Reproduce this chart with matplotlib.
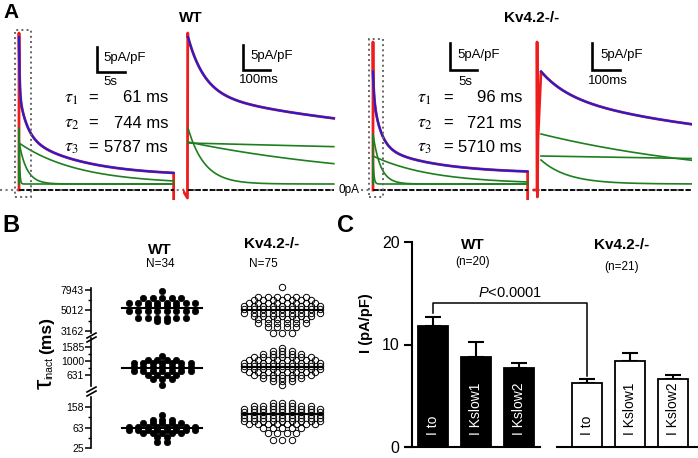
import numpy as np
import matplotlib
matplotlib.use('Agg')
import matplotlib.pyplot as plt
from matplotlib.patches import Rectangle
from matplotlib.ticker import FixedLocator, NullFormatter, FixedFormatter

plt.rcParams['font.family'] = ['Liberation Sans', 'DejaVu Sans']
plt.rcParams['mathtext.fontset'] = 'custom'
plt.rcParams['mathtext.rm'] = 'Liberation Sans'
plt.rcParams['mathtext.it'] = 'Liberation Sans:italic'
plt.rcParams['mathtext.bf'] = 'Liberation Sans:bold'

# ---------------- data ----------------
# Panel A: 3-exponential fits of example cells (amplitudes in pA/pF, taus in ms)
wt_tau_ms = [61, 744, 5787]
wt_amp = [11.2, 8.4, 8.2]
wt_ss = 2.8
wt_peak = 31.4
ko_tau_ms = [96, 721, 5710]
ko_amp = [4.8, 10.0, 5.6]
ko_ss = 3.3
ko_peak = 29.6
comp_base = 1.2
long_dur_ms = 15000
zoom_dur_ms = 540

# Panel B: tau_inact values (ms)
wt_tau3 = [7850] + [6570]*5 + [5990]*8 + [5580]*4 + [4900]*8 + [4190]*6 + [3920]*2
ko_tau3 = ([8590] + [6770]*6 + [6320]*7 + [5890]*8 + [5490]*9 + [5130]*9 + [4780]*9
           + [4460]*7 + [4160]*6 + [3810]*6 + [3430]*4 + [2990]*3)
wt_tau2 = [1179] + [1033]*4 + [936]*7 + [821]*7 + [720]*7 + [631]*4 + [553]*3 + [454]
ko_tau2 = ([1533] + [1389]*3 + [1259]*5 + [1141]*7 + [1033]*8 + [936]*9 + [848]*9
           + [769]*9 + [696]*8 + [631]*7 + [572]*5 + [518]*3 + [454])
wt_tau1 = [111] + [88.5]*3 + [77]*5 + [64.5]*8 + [56]*8 + [49]*5 + [41]*2 + [33]*2
ko_tau1 = ([190.6]*3 + [166.5]*7 + [145.6]*9 + [127.3]*9 + [111.3]*9 + [97.3]*9
           + [85.1]*9 + [74.4]*8 + [61.8]*5 + [49.3]*4 + [35.7]*3)
wt_means = [5250, 790, 63]
ko_means = [5100, 815, 118]

# Panel C
c_labels = ['I to', 'I Kslow1', 'I Kslow2']
wt_mean = [11.8, 8.8, 7.7]
wt_sem = [0.9, 1.45, 0.5]
ko_mean = [6.25, 8.4, 6.6]
ko_sem = [0.35, 0.8, 0.4]
p_text = '$P$<0.0001'

# ---------------- figure ----------------
W, H = 698, 458
fig = plt.figure(figsize=(W / 100, H / 100), dpi=100)


def ax_px(x0, y0, x1, y1, **kw):
    return fig.add_axes([x0 / W, 1 - y1 / H, (x1 - x0) / W, (y1 - y0) / H], **kw)


bg = fig.add_axes([0, 0, 1, 1], zorder=-1)
bg.set_xlim(0, W)
bg.set_ylim(H, 0)
bg.axis('off')

RED, BLUE, GREEN = '#ee1c1c', '#1f1fd8', '#1e7f1e'
PX_PER_UNIT = 5.0
ZERO_Y = 190
LONG_MS_PER_PX = 97.0


def trace_axes(x0, x1, t0_px, ms_per_px):
    ax = ax_px(x0, 25, x1, 200)
    ax.set_xlim((x0 - t0_px) * ms_per_px, (x1 - t0_px) * ms_per_px)
    ax.set_ylim(-(200 - ZERO_Y) / PX_PER_UNIT, (ZERO_Y - 25) / PX_PER_UNIT)
    ax.axis('off')
    return ax


def fit(t, amps, taus, ss):
    return ss + sum(a * np.exp(-t / tau) for a, tau in zip(amps, taus))


def draw_long(ax, amps, taus, ss, peak, box):
    t = np.concatenate([np.linspace(0, 2000, 800), np.linspace(2000, long_dur_ms, 400)[1:]])
    f = fit(t, amps, taus, ss)
    ax.plot(np.r_[0, 0, t, t[-1]], np.r_[0, peak, f, -2], color=RED, lw=2.0, zorder=2)
    for a, tau in zip(amps, taus):
        ax.plot(np.r_[0, t], np.r_[comp_base, comp_base + a * np.exp(-t / tau)],
                color=GREEN, lw=1.2, zorder=3)
    ax.plot(t, f, color=BLUE, lw=1.5, zorder=4)
    ax.plot([0, long_dur_ms], [0, 0], color='black', lw=1.3, ls=(0, (3, 1)), zorder=5)
    ax.add_patch(Rectangle((box[0], -1.4), box[1] - box[0], box[2] + 1.4, fill=False,
                           ec='#666666', lw=1.4, ls=':', clip_on=False, zorder=6))


def draw_zoom(ax, amps, taus, ss, rise_t, rise_v):
    t = np.linspace(0, zoom_dur_ms, 600)
    f = fit(t, amps, taus, ss)
    ax.plot(np.r_[rise_t, t], np.r_[rise_v, f], color=RED, lw=2.0, zorder=2)
    for a, tau in zip(amps, taus):
        ax.plot(t, comp_base + a * np.exp(-t / tau), color=GREEN, lw=1.2, zorder=3)
    ax.plot(t, f, color=BLUE, lw=1.5, zorder=4)
    ax.plot([0, zoom_dur_ms], [0, 0], color='black', lw=1.3, ls=(0, (3, 1)), zorder=5)


def scalebar_px(x, ytop, ybot, xright, xlabel, tx, ty, lx, ly):
    bg.plot([x, x, xright], [ytop, ybot, ybot], color='black', lw=1.9,
            solid_joinstyle='miter')
    bg.text(tx, ty, '5pA/pF', fontsize=9.5, ha='left', va='center')
    bg.text(lx, ly, xlabel, fontsize=9.5, ha='center', va='center')


# gray dotted 0 line and label
bg.plot([0, 336], [ZERO_Y, ZERO_Y], color='#777777', lw=1.5, ls=':')
bg.plot([361, 690], [ZERO_Y, ZERO_Y], color='#777777', lw=1.5, ls=':')
bg.text(349, ZERO_Y, '0pA', fontsize=8.5, ha='center', va='center')

# WT long
a1 = trace_axes(8, 182, 19, LONG_MS_PER_PX)
draw_long(a1, wt_amp, wt_tau_ms, wt_ss, wt_peak, (-390, 1165, 32))
scalebar_px(97, 47, 72, 125, '5s', 103, 58, 110, 82)
# WT zoom
a2 = trace_axes(183, 338, 188, 100 / 27)
draw_zoom(a2, wt_amp, wt_tau_ms, wt_ss, [-20, -2, -1], [0, -1.6, wt_peak])
scalebar_px(243, 45, 70, 270, '100ms', 250, 56, 259, 80)
# KO long
a3 = trace_axes(362, 532, 373, LONG_MS_PER_PX)
draw_long(a3, ko_amp, ko_tau_ms, ko_ss, ko_peak, (-390, 970, 30.2))
scalebar_px(450, 43, 70, 477, '5s', 457, 55, 465, 82)
# KO zoom
a4 = trace_axes(533, 692, 541, 100 / 28)
draw_zoom(a4, ko_amp, ko_tau_ms, ko_ss, [-28, -14, -14, -13, -11], [0, 0, ko_peak, -1.4, 10])
scalebar_px(592, 43, 70, 620, '100ms', 600, 55, 608, 81)

# tau texts
for x_tau, x_eq, x_val, taus in [(64, 88, 168, wt_tau_ms), (417, 443, 522, ko_tau_ms)]:
    for i, (yy, tau) in enumerate(zip([98, 123, 147], taus)):
        bg.text(x_tau, yy, r'$\tau_%d$' % (i + 1), math_fontfamily='stix', fontsize=13,
                ha='left', va='center')
        bg.text(x_eq, yy, '=', fontsize=12, ha='left', va='center')
        bg.text(x_val, yy, '%d ms' % tau, fontsize=12, ha='right', va='center')

bg.text(191, 18, 'WT', fontsize=11, fontweight='bold', ha='center', va='center')
bg.text(532, 18, 'Kv4.2-/-', fontsize=11, fontweight='bold', ha='center', va='center')
bg.text(3, 13, 'A', fontsize=15, fontweight='bold', ha='left', va='center')

# ---------------- Panel B ----------------
bg.text(2, 225, 'B', fontsize=17, fontweight='bold', ha='left', va='center')
bg.text(160, 250, 'WT', fontsize=11, fontweight='bold', ha='center', va='center')
bg.text(160, 264, 'N=34', fontsize=8.5, ha='center', va='center')
bg.text(272, 244, 'Kv4.2-/-', fontsize=11, fontweight='bold', ha='center', va='center')
bg.text(263, 264, 'N=75', fontsize=8.5, ha='center', va='center')
bg.text(47, 336, '(ms)', fontsize=12.5, fontweight='bold', rotation=90, ha='center', va='center')
bg.text(49, 368, 'inact', fontsize=7.5, rotation=90, ha='center', va='center')
bg.text(45, 384, 'τ', fontsize=19, rotation=90, ha='center', va='center')

AX_B = 91
B_PX_PER_UNIT = 120.0
spacing = 9.5 / B_PX_PER_UNIT
half_w = 40 / B_PX_PER_UNIT
b_xlim = (-(162 - AX_B) / B_PX_PER_UNIT, (335 - 162) / B_PX_PER_UNIT)

segments = [
    ((288, 333), (3021, 8313), [3162, 5012, 7943], [3981, 6310], wt_tau3, ko_tau3, 0),
    ((338, 386), (439, 2132), [631, 1000, 1585], [794, 1259], wt_tau2, ko_tau2, 1),
    ((397, 448), (25, 250), [25, 63, 158], [40, 100], wt_tau1, ko_tau1, 2),
]


def place(vals, xc):
    xs, ys = [], []
    uniq = sorted(set(vals), reverse=True)
    for u in uniq:
        n = vals.count(u)
        off = (np.arange(n) - (n - 1) / 2) * spacing
        xs.extend(xc + off)
        ys.extend([u] * n)
    return xs, ys


for (y0, y1), ylim, majors, minors, wv, kv, k in segments:
    ax = ax_px(AX_B, y0, 335, y1)
    ax.set_facecolor('none')
    ax.set_yscale('log')
    ax.set_xlim(*b_xlim)
    ax.set_ylim(*ylim)
    for s in ['top', 'right', 'bottom']:
        ax.spines[s].set_visible(False)
    ax.spines['left'].set_linewidth(1.2)
    ax.set_xticks([])
    ax.yaxis.set_major_locator(FixedLocator(majors))
    ax.yaxis.set_major_formatter(FixedFormatter([str(m) for m in majors]))
    ax.yaxis.set_minor_locator(FixedLocator(minors))
    ax.yaxis.set_minor_formatter(NullFormatter())
    ax.tick_params(axis='y', which='major', length=4, width=1.1, labelsize=7.5, pad=1)
    ax.tick_params(axis='y', which='minor', length=2.5, width=1.0)
    xs, ys = place(wv, 0)
    ax.plot(xs, ys, 'o', ms=4.6, mfc='black', mec='black', mew=0.5, clip_on=False, zorder=3)
    xs, ys = place(kv, 1)
    ax.plot(xs, ys, 'o', ms=4.6, mfc='none', mec='black', mew=0.7, clip_on=False, zorder=3)
    ax.plot([-half_w, half_w], [wt_means[k]] * 2, color='black', lw=1.5, zorder=4)
    ax.plot([1 - half_w, 1 + half_w], [ko_means[k]] * 2, color='black', lw=1.5, zorder=4)

# axis break marks
for yb in [333, 387]:
    bg.plot([AX_B - 4, AX_B + 5], [yb + 5, yb], color='black', lw=1.2)
    bg.plot([AX_B - 4, AX_B + 5], [yb + 9, yb + 4], color='black', lw=1.2)

# ---------------- Panel C ----------------
bg.text(337, 225, 'C', fontsize=17, fontweight='bold', ha='left', va='center')
C_PX = 43.0
axc = ax_px(412, 242, 697, 447)
axc.set_facecolor('none')
axc.set_xlim((412 - 433) / C_PX, (697 - 433) / C_PX)
axc.set_ylim(0, 20)
for s in ['top', 'right', 'bottom']:
    axc.spines[s].set_visible(False)
axc.spines['left'].set_linewidth(1.5)
axc.set_xticks([])
axc.set_yticks([0, 10, 20])
axc.tick_params(axis='y', length=6, width=1.5, labelsize=11.5, pad=3)

wt_pos = np.arange(3)
ko_pos = np.arange(3) + 3.58
axc.bar(wt_pos, wt_mean, width=0.7, color='black', edgecolor='black', lw=1.3, zorder=2)
axc.bar(ko_pos, ko_mean, width=0.7, color='white', edgecolor='black', lw=1.3, zorder=2)
axc.errorbar(wt_pos, wt_mean, yerr=[np.zeros(3), wt_sem], fmt='none', ecolor='black',
             elinewidth=1.5, capsize=5.5, capthick=1.5, zorder=1)
axc.errorbar(ko_pos, ko_mean, yerr=[np.zeros(3), ko_sem], fmt='none', ecolor='black',
             elinewidth=1.5, capsize=5.5, capthick=1.5, zorder=1)
for p, lab in zip(wt_pos, c_labels):
    axc.text(p, 1.15, lab, rotation=90, ha='center', va='bottom', color='white', fontsize=10)
for p, lab in zip(ko_pos, c_labels):
    axc.text(p, 1.15, lab, rotation=90, ha='center', va='bottom', color='black', fontsize=10)
axc.plot([(405 - 433) / C_PX, (540 - 433) / C_PX], [0, 0], color='black', lw=1.5, clip_on=False)
axc.plot([(557 - 433) / C_PX, (697 - 433) / C_PX], [0, 0], color='black', lw=1.5, clip_on=False)

# significance bracket
top_y = 14.05
axc.plot([wt_pos[0], wt_pos[0], ko_pos[0], ko_pos[0]],
         [wt_mean[0] + wt_sem[0] + 0.35, top_y, top_y, ko_mean[0] + ko_sem[0] + 0.3],
         color='black', lw=1.1)
axc.text((wt_pos[0] + ko_pos[0]) / 2, top_y + 1.0, p_text, fontsize=10.5, ha='center',
         va='center')

bg.text(473, 245, 'WT', fontsize=11, fontweight='bold', ha='center', va='center')
bg.text(473, 262, '(n=20)', fontsize=8.5, ha='center', va='center')
bg.text(622, 245, 'Kv4.2-/-', fontsize=11, fontweight='bold', ha='center', va='center')
bg.text(622, 267, '(n=21)', fontsize=8.5, ha='center', va='center')
bg.text(366, 323, 'I (pA/pF)', fontsize=10.5, fontweight='bold', rotation=90,
        ha='center', va='center')

fig.savefig('out.png', dpi=100)
